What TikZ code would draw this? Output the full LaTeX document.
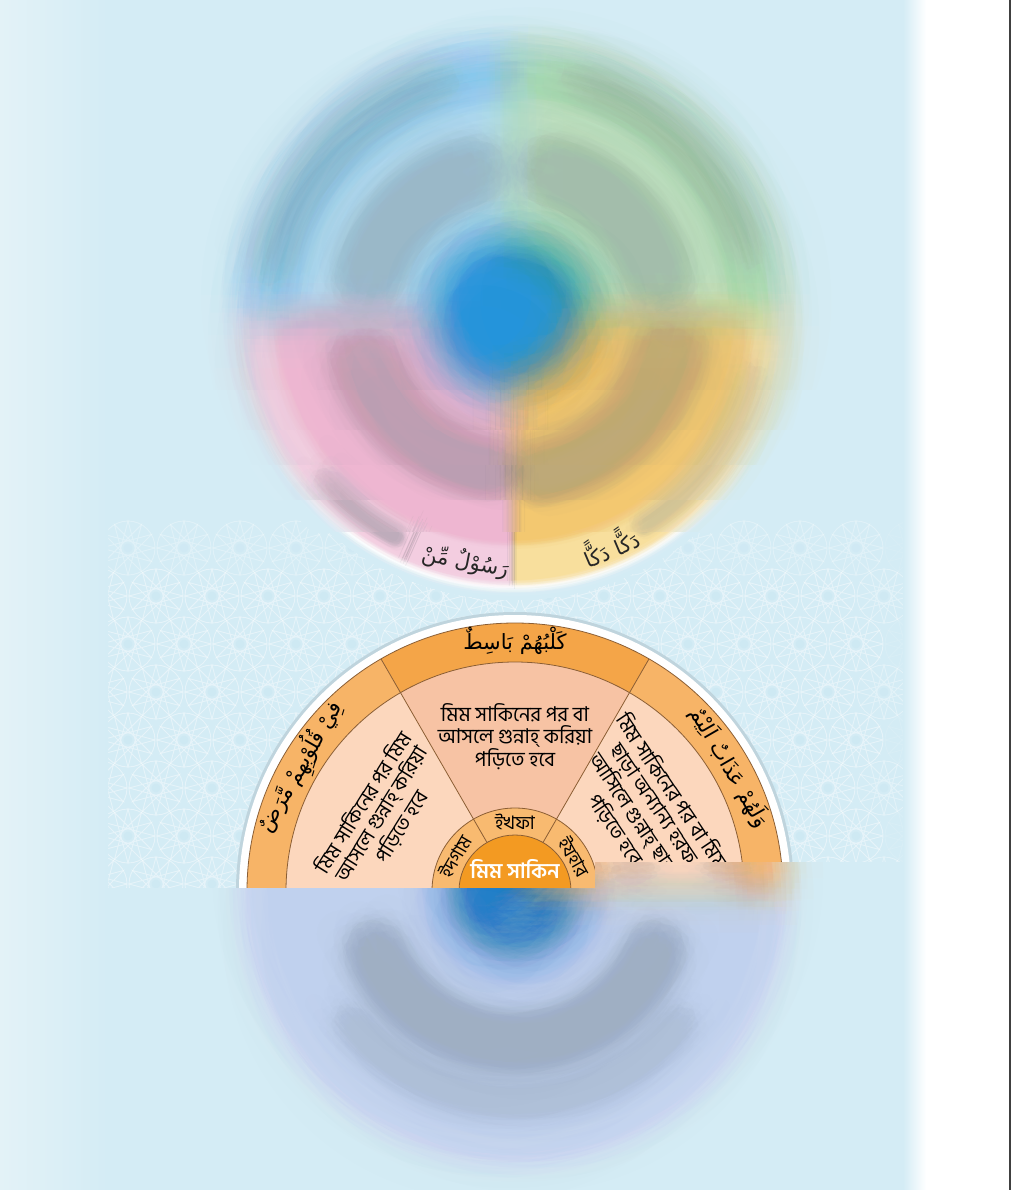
\documentclass[tikz,border=0pt]{standalone}
\usepackage{fontspec}
\newfontfamily\bn[Script=Bengali]{Hind Siliguri}
\newfontfamily\ar[Script=Arabic]{DejaVu Sans}
\TeXXeTstate=1
\definecolor{bgc}{HTML}{D4ECF5}
\definecolor{leftc}{HTML}{E3F2F7}
\definecolor{tBlueO}{HTML}{80C9F0}
\definecolor{tBlueI}{HTML}{B6DEF2}
\definecolor{tGreenO}{HTML}{A5DAAE}
\definecolor{tGreenI}{HTML}{C4E6C4}
\definecolor{tPinkO}{HTML}{F3CDE0}
\definecolor{tPinkI}{HTML}{EEB6D1}
\definecolor{tYelO}{HTML}{F8DF9D}
\definecolor{tYelI}{HTML}{F3C870}
\definecolor{ringB}{HTML}{3AA6E4}
\definecolor{ringG}{HTML}{45B39A}
\definecolor{ringP}{HTML}{5BAEE0}
\definecolor{ringY}{HTML}{E9B552}
\definecolor{tDisk}{HTML}{2494DB}
\definecolor{smc}{HTML}{6F7C84}
\definecolor{bandTop}{HTML}{F4A548}
\definecolor{bandSide}{HTML}{F7B467}
\definecolor{pinkMid}{HTML}{F7C3A4}
\definecolor{pinkSide}{HTML}{FCD7BD}
\definecolor{ringC}{HTML}{F8BA70}
\definecolor{diskC}{HTML}{F39A22}
\definecolor{lineC}{HTML}{8B5E34}
\definecolor{bBand}{HTML}{C5D5F0}
\definecolor{bInner}{HTML}{C0D1EE}
\definecolor{bRing}{HTML}{A9C3EA}
\definecolor{bDisk}{HTML}{1F7EC8}
\definecolor{patdot}{HTML}{C8E5F2}

\tikzset{
 smudge/.style={smc, line cap=round, opacity=.4},
 mline/.style={lineC, line width=0.4pt},
 arl/.style={font=\ar\fontsize{10.5}{11}\selectfont, text=black, inner sep=0pt},
 artop/.style={font=\ar\fontsize{10.5}{11}\selectfont, text=black!85, inner sep=0pt},
 bnl/.style={font=\bn\fontsize{10.2}{10.6}\selectfont, align=center, text=black, inner sep=0pt},
 bns/.style={font=\bn\fontsize{9.3}{10}\selectfont, text=black, inner sep=0pt},
 bnc/.style={font=\bn\bfseries\fontsize{10.5}{11}\selectfont, text=white, inner sep=0pt},
}

\newcommand\qsect[4]{\fill[#1] (0,0) -- (#2:#4) arc[start angle=#2, end angle=#3, radius=#4] -- cycle;}
\newcommand\qarc[5]{\draw[smudge, line width=#4pt, opacity=#5] (#1:#3) arc[start angle=#1, end angle=#2, radius=#3];}

% Gaussian-like blur: running average of shifted copies
\newcommand\blurlevel[3]{%
  \foreach \i in {1,...,#2}{%
    \pgfmathsetmacro\blurop{1/\i}%
    \pgfmathsetmacro\blurr{#3*sqrt(-2*ln(1-(\i-0.5)/#2))}%
    \pgfmathsetmacro\bdx{\blurr*cos(\i*137.508)}%
    \pgfmathsetmacro\bdy{\blurr*sin(\i*137.508)}%
    \begin{scope}[opacity=\blurop]
      \begin{scope}[transparency group, shift={(\bdx,\bdy)}]
        #1
      \end{scope}
    \end{scope}}}

\newcommand\topscene{%
 \fill[bgc] (-20,-110) rectangle (1040,720);
 \begin{scope}[shift={(513,316)},yscale=-1]
  \fill[white] (0,0) circle (275);
  \qsect{tGreenO}{0}{90}{268}\qsect{tBlueO}{90}{180}{268}\qsect{tPinkO}{180}{270}{268}\qsect{tYelO}{270}{360}{268}
  \qsect{tGreenI}{0}{90}{228}\qsect{tBlueI}{90}{180}{228}\qsect{tPinkI}{180}{270}{228}\qsect{tYelI}{270}{360}{228}
  \qarc{108}{168}{248}{12}{.38}
  \qarc{106}{165}{150}{26}{.38}
  \qarc{16}{74}{246}{12}{.34}
  \qarc{14}{76}{150}{26}{.38}
  \qarc{280}{350}{160}{28}{.4}
  \qarc{302}{345}{247}{9}{.28}
  \qarc{196}{262}{155}{26}{.4}
  \qarc{222}{242}{250}{9}{.4}
  \qsect{ringG}{0}{90}{83}\qsect{ringB}{90}{180}{83}\qsect{ringP}{180}{270}{83}\qsect{ringY}{270}{360}{83}
  \fill[tDisk] (0,0) circle (62);
  \draw[smc!70!black, line width=0.4pt] (270:83) -- (270:268) (246:228) -- (246:268);
 \end{scope}}

\newcommand\midscene{%
 \begin{scope}[shift={(515,891)},yscale=-1]
  \fill[black!10!bgc] (0,0) circle (279);
  \fill[white] (0,0) circle (276);
  \qsect{bandSide}{0}{60}{268}\qsect{bandTop}{60}{120}{268}\qsect{bandSide}{120}{180}{268}
  \qsect{pinkSide}{0}{60}{229}\qsect{pinkMid}{60}{120}{229}\qsect{pinkSide}{120}{180}{229}
  \fill[ringC] (0,0) circle (83);
  \fill[diskC] (0,0) circle (56);
  \draw[mline] (0,0) circle (268) (0,0) circle (229) (0,0) circle (83) (0,0) circle (56);
  \draw[mline] (60:56) -- (60:268) (120:56) -- (120:268);
  \node[arl] (bandtop) at (90:250) {\beginR كَلْبُهُمْ بَاسِطٌ\endR};
  \node[arl, rotate=60] (bandleft) at (150:248) {\beginR فِيْ قُلُوْبِهِمْ مَّرَضٌ\endR};
  \node[arl, rotate=-60] (bandright) at (30:248) {\beginR وَلَهُمْ عَذَابٌ اَلِيْمٌ\endR};
  \node[bnl] (pmid) at (90:154) {মিম সাকিনের পর বা\\আসলে গুন্নাহ্ করিয়া\\পড়িতে হবে};
  \node[bnl, rotate=58] (pleft) at (150:153) {মিম সাকিনের পর মিম\\আসলে গুন্নাহ্ করিয়া\\পড়িতে হবে};
  \node[bnl, rotate=-56] (pright) at (32:152) {মিম সাকিনের পর বা মিম\\ছাড়া অন্যান্য হরফ\\আসিলে গুন্নাহ্ ছাড়া\\পড়িতে হবে};
  \node[bns] (ikhfa) at (90:69) {ইখফা};
  \node[bns, rotate=60] (idgham) at (150:69) {ইদগাম};
  \node[bns, rotate=-60] (izhar) at (30:69) {ইযহার};
  \node[bnc] (mimsakin) at (0,22) {মিম সাকিন};
 \end{scope}}

\newcommand\botscene{%
 \fill[bgc] (-20,760) rectangle (1040,1300);
 \begin{scope}[shift={(515,891)},yscale=-1]
  \fill[white] (0,0) circle (276);
  \qsect{bBand}{40}{360}{268}
  \qsect{bInner}{40}{360}{229}
  \qsect{bRing}{40}{360}{83}
  \fill[bDisk] (0,0) circle (60);
  \qsect{bandSide}{0}{40}{268}
  \qsect{pinkSide}{0}{40}{229}
  \qsect{ringC}{0}{40}{83}
  \qarc{203}{337}{152}{23}{.4}
  \qarc{218}{322}{210}{9}{.2}
  \fill[white, opacity=.55] (0,-24) ellipse [x radius=24, y radius=8];
  \fill[smc, opacity=.5] (118,20) ellipse [x radius=16, y radius=6];
  \fill[smc, opacity=.5] (212,24) ellipse [x radius=18, y radius=6];
  \fill[smc, opacity=.45] (72,20) ellipse [x radius=9, y radius=5];
 \end{scope}}

\begin{document}
\begin{tikzpicture}[x=0.5pt,y=-0.5pt]
\useasboundingbox (0,0) rectangle (1015,1190);
\fill[bgc] (0,0) rectangle (1015,1190);
% pattern band
\begin{scope}
 \clip (100,505) rectangle (915,888);
 \foreach \row in {0,...,8}{
  \foreach \col in {0,...,15}{
   \pgfmathsetmacro\px{100+\col*56+mod(\row,2)*28}
   \pgfmathsetmacro\py{500+\row*48}
   \pgfmathsetmacro\patop{0.42*min(1,max(0,(\py-505)/60))*min(1,max(0,(925-\px)/50))}
   \begin{scope}[shift={(\px,\py)}, opacity=\patop]
     \fill[patdot] (0,0) circle (4.5);
     \draw[white, line width=0.45pt] (0,0) circle (27);
     \draw[white, line width=0.45pt] (0:27) \foreach \k in {1,...,12}{ -- (\k*150:27)};
   \end{scope}}}
\end{scope}
% top blurred circle, blur decreasing downwards
\begin{scope}\clip (100,-5) rectangle (920,390); \blurlevel{\topscene}{48}{20}\end{scope}
\begin{scope}\clip (100,390) rectangle (920,430); \blurlevel{\topscene}{40}{17}\end{scope}
\begin{scope}\clip (100,430) rectangle (920,465); \blurlevel{\topscene}{36}{13.5}\end{scope}
\begin{scope}\clip (100,465) rectangle (920,500); \blurlevel{\topscene}{30}{10}\end{scope}
\begin{scope}\clip (100,500) rectangle (920,532); \clip (513,316) circle (295); \blurlevel{\topscene}{24}{6}\end{scope}
\begin{scope}\clip (100,532) rectangle (920,620); \clip (513,316) circle (284); \blurlevel{\topscene}{12}{2.5}\end{scope}
\begin{scope}[shift={(513,316)},yscale=-1]
  \node[artop, rotate=-11] (rasul) at (259:250) {\beginR رَسُوْلٌ مِّنْ\endR};
  \node[artop, rotate=23] (dakka) at (293:249) {\beginR دَكًّا دَكًّا\endR};
\end{scope}
% sharp middle half disc
\begin{scope}
 \clip (100,500) -- (920,500) -- (920,862) -- (595,862) -- (595,888) -- (100,888) -- cycle;
 \midscene
\end{scope}
% bottom blurred half
\begin{scope}
 \clip (100,888) -- (595,888) -- (595,862) -- (920,862) -- (920,1195) -- (100,1195) -- cycle;
 \blurlevel{\botscene}{48}{16}
\end{scope}
% side strips
\shade[left color=leftc, right color=bgc] (0,-1) rectangle (108,1191);
\shade[left color=bgc, right color=white] (903,-1) rectangle (926,1191);
\fill[white] (926,-1) rectangle (1016,1191);
\fill[black!75] (1008.5,-1) rectangle (1011,1191);
\end{tikzpicture}
\end{document}
